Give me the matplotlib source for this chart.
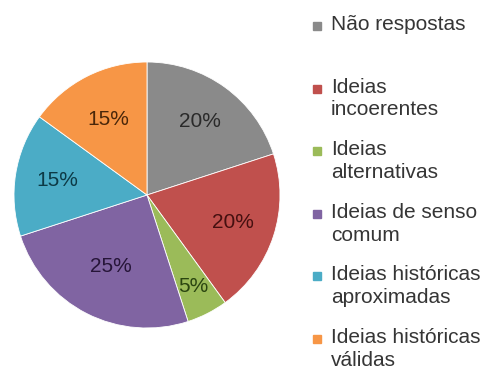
import matplotlib.pyplot as plt
import numpy as np

categories = ["Não respostas", "Ideias\nincoerentes", "Ideias\nalternativas",
              "Ideias de senso\ncomum", "Ideias históricas\naproximadas",
              "Ideias históricas\nválidas"]
values = [20, 20, 5, 25, 15, 15]

colors = ["#8a8a8a", "#c0504d", "#9bbb59", "#8064a2", "#4bacc6", "#f79646"]
text_colors = ["#2a2a2a", "#451010", "#2a4510", "#261538", "#0d3a46", "#4a270a"]
# radial position of each percentage label (fraction of radius)
label_r = [0.68, 0.68, 0.77, 0.6, 0.68, 0.64]

plt.rcParams["font.family"] = ["Liberation Sans", "DejaVu Sans"]

W, H = 489, 370
fig = plt.figure(figsize=(W / 100, H / 100), dpi=100)

cx, cy, r = 147, 195, 133
ax = fig.add_axes([(cx - r) / W, (H - cy - r) / H, 2 * r / W, 2 * r / H])

wedges, texts, autotexts = ax.pie(
    values, colors=colors, startangle=90, counterclock=False,
    autopct="%d%%", pctdistance=0.68,
    wedgeprops=dict(edgecolor="white", linewidth=0.6),
    textprops=dict(fontsize=15))
ax.set_xlim(-1, 1)
ax.set_ylim(-1, 1)
ax.set_aspect("equal")

for w, t, c, rr in zip(wedges, autotexts, text_colors, label_r):
    w.set_clip_on(False)
    mid = np.deg2rad((w.theta1 + w.theta2) / 2)
    t.set_position((rr * np.cos(mid), rr * np.sin(mid)))
    t.set_color(c)

# legend drawn by hand so the swatch lines up with the first text line
y0, step = 26, 62.6
for i, (lab, c) in enumerate(zip(categories, colors)):
    y = y0 + i * step
    fig.patches.append(plt.Rectangle((313 / W, 1 - (y + 4) / H), 8 / W, 8 / H,
                                     transform=fig.transFigure, color=c))
    fig.text(331 / W, 1 - (y - 11) / H, lab, fontsize=15, color="#353535",
             va="top", ha="left", linespacing=1.25)

fig.savefig("out.png", dpi=100)
